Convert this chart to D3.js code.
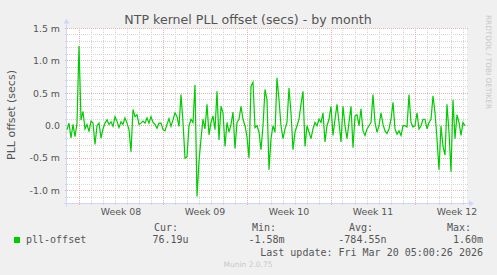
<!DOCTYPE html>
<html><head><meta charset="utf-8">
<script src="https://cdn.jsdelivr.net/npm/d3@7"></script>
<style>body{margin:0;background:#f0f0f0}svg{display:block}</style>
</head><body><svg id="c" width="497" height="275"></svg>
<script>
const chartTitle = "NTP kernel PLL offset (secs) - by month";
const yAxisTitle = "PLL offset (secs)";
const seriesName = "pll-offset";
const startTime = Date.UTC(2026, 1, 15, 0, 0, 0);
const stepHours = 4;
// offset values in milliseconds (m)
const offsetMs = [
 -0.06, 0.04, -0.19, 0.02, -0.17, 0.04, 1.23, 0.09, 0.22, -0.05,
 0.02, -0.09, 0.07, 0.04, -0.29, 0.0, 0.04, -0.19, -0.05, 0.04,
 0.09, 0.02, 0.06, -0.01, 0.14, 0.07, -0.03, 0.06, 0.02, 0.12,
 0.04, -0.06, -0.40, 0.25, 0.14, 0.17, 0.02, 0.04, 0.07, 0.04,
 0.12, 0.04, 0.14, 0.05, 0.02, -0.04, 0.04, 0.04, -0.06, -0.08,
 0.02, 0.11, -0.01, 0.09, 0.20, 0.14, -0.01, 0.48, 0.05, -0.50,
 -0.48, 0.0, 0.10, 0.05, 0.63, -1.09, -0.55, -0.20, 0.10, -0.05,
 0.33, -0.14, 0.05, 0.15, -0.06, 0.53, -0.22, 0.30, 0.20, -0.32,
 0.05, -0.10, 0.02, 0.21, -0.35, 0.05, 0.10, 0.30, 0.10, 0.0,
 -0.17, -0.50, 0.61, 0.67, -0.03, 0.0, -0.10, -0.37, 0.0, 0.56,
 0.40, -0.68, -0.20, 0.0, -0.10, 0.74, 0.40, 0.0, -0.20, -0.05,
 0.05, 0.58, 0.20, -0.37, -0.10, 0.0, 0.10, 0.33, 0.53, -0.32,
 0.0, -0.10, -0.20, -0.05, 0.05, 0.0, 0.10, 0.05, 0.20, -0.25,
 0.0, 0.10, 0.30, -0.15, 0.10, 0.33, 0.05, -0.25, 0.30, 0.0,
 -0.20, 0.05, 0.30, -0.34, 0.15, 0.17, 0.0, 0.26, -0.08, -0.15,
 -0.05, 0.0, 0.05, 0.48, 0.05, -0.10, 0.0, 0.20, 0.02, -0.08,
 -0.12, -0.05, 0.10, 0.36, -0.05, -0.13, -0.08, -0.15, 0.0, 0.0,
 -0.02, 0.48, 0.05, -0.02, 0.0, 0.20, -0.05, 0.0, 0.10, 0.10,
 -0.05, 0.05, 0.10, 0.46, 0.20, -0.20, -0.68, 0.0, -0.32, -0.45,
 0.33, -0.10, -0.71, 0.40, -0.20, 0.17, 0.05, -0.15, 0.05, 0.0
];
const yTickValues = [-1.0, -0.5, 0, 0.5, 1.0, 1.5];
const yTickLabels = ["-1.0 m", "-0.5 m", "0.0", "0.5 m", "1.0 m", "1.5 m"];
const weekLabels = ["Week 08", "Week 09", "Week 10", "Week 11", "Week 12"];
const weekStarts = [[2026,1,16],[2026,1,23],[2026,2,2],[2026,2,9],[2026,2,16]];
const legendHeaders = ["Cur:", "Min:", "Avg:", "Max:"];
const legendValues = ["76.19u", "-1.58m", "-784.55n", "1.60m"];
const lastUpdate = "Last update: Fri Mar 20 05:00:26 2026";
const watermark = "RRDTOOL / TOBI OETIKER";
const footer = "Munin 2.0.75";

const svg = d3.select("#c");
const L = 67, R = 467, T = 28.5, B = 203.5;
const DAY = 86400000;
const x = d3.scaleUtc().domain([new Date(startTime), new Date(startTime + DAY * 400 / 12)]).range([L, R]);
const y = d3.scaleLinear().domain([-1.2, 1.5]).range([B, T]);
const px = v => Math.floor(v) + 0.5;

svg.append("rect").attr("width", 497).attr("height", 275).attr("fill", "#f0f0f0");
svg.append("rect").attr("x", L).attr("y", T).attr("width", R - L).attr("height", B - T).attr("fill", "#fff");

const minorCol = "#d6d6d6", majorCol = "#eab0b0", axisCol = "#cfd6f8", textCol = "#555";

// vertical minor grid (days)
const days = d3.utcDay.range(new Date(startTime + DAY), x.domain()[1]);
svg.append("g").selectAll("line").data(days).join("line")
  .attr("x1", d => px(x(d))).attr("x2", d => px(x(d)))
  .attr("y1", T - 0.5).attr("y2", B + 2)
  .attr("stroke", minorCol).attr("stroke-dasharray", "1,1");
// horizontal minor grid
const minors = d3.range(-11, 16).map(v => v / 10);
svg.append("g").selectAll("line").data(minors).join("line")
  .attr("x1", L - 2).attr("x2", R + 1)
  .attr("y1", d => px(y(d))).attr("y2", d => px(y(d)))
  .attr("stroke", minorCol).attr("stroke-dasharray", "1,1");
// major grid
const weekDates = weekStarts.map(a => new Date(Date.UTC(a[0], a[1], a[2])));
svg.append("g").selectAll("line").data(weekDates).join("line")
  .attr("x1", d => px(x(d))).attr("x2", d => px(x(d)))
  .attr("y1", T - 0.5).attr("y2", B + 2)
  .attr("stroke", majorCol).attr("stroke-dasharray", "1,1");
svg.append("g").selectAll("line").data(yTickValues).join("line")
  .attr("x1", L - 2).attr("x2", R + 1)
  .attr("y1", d => px(y(d))).attr("y2", d => px(y(d)))
  .attr("stroke", majorCol).attr("stroke-dasharray", "1,1");

// axes
svg.append("line").attr("x1", L - 0.5).attr("x2", L - 0.5).attr("y1", B + 3).attr("y2", T - 6).attr("stroke", axisCol);
svg.append("path").attr("d", `M${L-3.5},${T-5} L${L-0.5},${T-10} L${L+2.5},${T-5} Z`).attr("fill", axisCol);
svg.append("line").attr("x1", L - 3).attr("x2", R + 3).attr("y1", B + 0).attr("y2", B + 0).attr("stroke", axisCol);
svg.append("path").attr("d", `M${R+2},${B-3} L${R+7},${B} L${R+2},${B+3} Z`).attr("fill", axisCol);

// y tick labels
svg.append("g").selectAll("text").data(yTickValues).join("text")
  .attr("x", 60).attr("y", d => y(d)).attr("dy", "0.35em")
  .attr("text-anchor", "end").attr("font-family", "DejaVu Sans").attr("font-size", 9.4)
  .attr("fill", textCol).text((d, i) => yTickLabels[i]);
// x week labels
svg.append("g").selectAll("text").data(weekDates).join("text")
  .attr("x", d => x(new Date(+d + 3.5 * DAY))).attr("y", 215)
  .attr("text-anchor", "middle").attr("font-family", "DejaVu Sans").attr("font-size", 9.4)
  .attr("fill", textCol).text((d, i) => weekLabels[i]);

// data line
const data = offsetMs.map((v, i) => ({ t: new Date(startTime + i * stepHours * 3600000), v }));
svg.append("path").datum(data)
  .attr("d", d3.line().x(d => x(d.t)).y(d => y(d.v)))
  .attr("fill", "none").attr("stroke", "#00cc00").attr("stroke-width", 1.2);

// titles
svg.append("text").attr("x", 248).attr("y", 23.5).attr("text-anchor", "middle")
  .attr("font-family", "DejaVu Sans").attr("font-size", 12.6).attr("fill", textCol).text(chartTitle);
svg.append("text").attr("transform", "translate(15,115) rotate(-90)").attr("text-anchor", "middle")
  .attr("font-family", "DejaVu Sans").attr("font-size", 11).attr("fill", textCol).text(yAxisTitle);
svg.append("text").attr("transform", "translate(486,15) rotate(90)").attr("text-anchor", "start")
  .attr("font-family", "DejaVu Sans").attr("font-size", 7.3).attr("fill", "#c8c8c8").text(watermark);

// legend
const mono = "DejaVu Sans Mono";
svg.append("rect").attr("x", 14).attr("y", 237).attr("width", 6).attr("height", 6).attr("fill", "#00cc00");
svg.append("text").attr("x", 26).attr("y", 243).attr("font-family", mono).attr("font-size", 10).attr("fill", textCol).text(seriesName);
const hx = [154, 252, 349, 447];
const vx = [188.5, 284.5, 386.5, 483];
svg.append("g").selectAll("text").data(legendHeaders).join("text")
  .attr("x", (d, i) => hx[i]).attr("y", 231).attr("font-family", mono).attr("font-size", 10)
  .attr("fill", textCol).text(d => d);
svg.append("g").selectAll("text").data(legendValues).join("text")
  .attr("x", (d, i) => vx[i]).attr("y", 243).attr("text-anchor", "end").attr("font-family", mono).attr("font-size", 10)
  .attr("fill", textCol).text(d => d);
svg.append("text").attr("x", 483).attr("y", 255.5).attr("text-anchor", "end").attr("font-family", mono)
  .attr("font-size", 10).attr("fill", textCol).text(lastUpdate);
svg.append("text").attr("x", 248).attr("y", 267).attr("text-anchor", "middle").attr("font-family", "DejaVu Sans")
  .attr("font-size", 7.5).attr("fill", "#c8c8c8").text(footer);
</script></body></html>
